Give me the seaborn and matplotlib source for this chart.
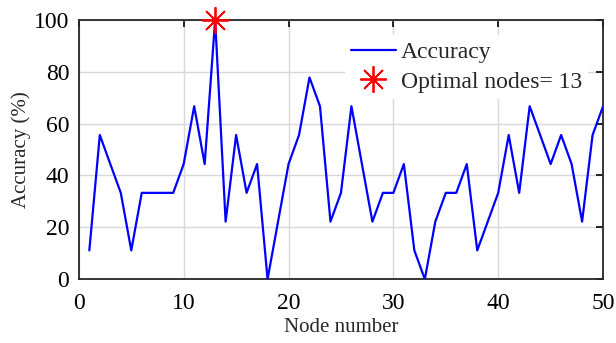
import matplotlib
matplotlib.use("Agg")
import matplotlib.pyplot as plt
import seaborn as sns
import pandas as pd
import numpy as np

nodes = list(range(1, 51))
accuracy = [11.1, 55.6, 44.4, 33.3, 11.1, 33.3, 33.3, 33.3, 33.3, 44.4,
            66.7, 44.4, 100.0, 22.2, 55.6, 33.3, 44.4, 0.0, 22.2, 44.4,
            55.6, 77.8, 66.7, 22.2, 33.3, 66.7, 44.4, 22.2, 33.3, 33.3,
            44.4, 11.1, 0.0, 22.2, 33.3, 33.3, 44.4, 11.1, 22.2, 33.3,
            55.6, 33.3, 66.7, 55.6, 44.4, 55.6, 44.4, 22.2, 55.6, 66.7]
optimal_node = [13]
optimal_acc = [100.0]
x_ticks = [0, 10, 20, 30, 40, 50]
y_ticks = [0, 20, 40, 60, 80, 100]

sns.set_style("white")
plt.rcParams['font.family'] = ['Liberation Serif', 'DejaVu Serif']

df = pd.DataFrame({"Node number": nodes, "Accuracy": accuracy})

fig = plt.figure(figsize=(6.16, 3.43), dpi=100)
ax = fig.add_axes([0.128, 0.186, 0.851, 0.756])

sns.lineplot(data=df, x="Node number", y="Accuracy", ax=ax, color=(0, 0, 1),
             linewidth=1.6, label="Accuracy", zorder=3)
ax.plot(optimal_node, optimal_acc, linestyle='none', marker=(8, 2, 0),
        markersize=19, markeredgewidth=1.3, color='red',
        label="Optimal nodes= 13", zorder=4, clip_on=False)

ax.set_xlim(0, 50)
ax.set_ylim(0, 100)
ax.set_xticks(x_ticks)
ax.set_yticks(y_ticks)
ax.grid(True, color='#d8d8d8', linewidth=1.0, zorder=0)
ax.set_axisbelow(True)
ax.tick_params(direction='in', top=True, right=True, length=5, width=1.2,
               labelsize=17, colors='black')
ax.tick_params(axis='x', pad=10)
ax.tick_params(axis='y', pad=7)
for s in ax.spines.values():
    s.set_color('#262626')
    s.set_linewidth(1.3)
    s.set_visible(True)
ax.set_xlabel("Node number", fontsize=15, labelpad=3)
ax.set_ylabel("Accuracy (%)", fontsize=15, labelpad=2)

leg = ax.legend(loc='upper left', bbox_to_anchor=(0.508, 0.94), borderaxespad=0,
                fontsize=17, frameon=True, fancybox=False, framealpha=1.0,
                edgecolor='white', handlelength=1.9, borderpad=0.25,
                labelspacing=0.35, handletextpad=0.2)
leg.get_frame().set_linewidth(0)

fig.savefig("out.png", dpi=100)
